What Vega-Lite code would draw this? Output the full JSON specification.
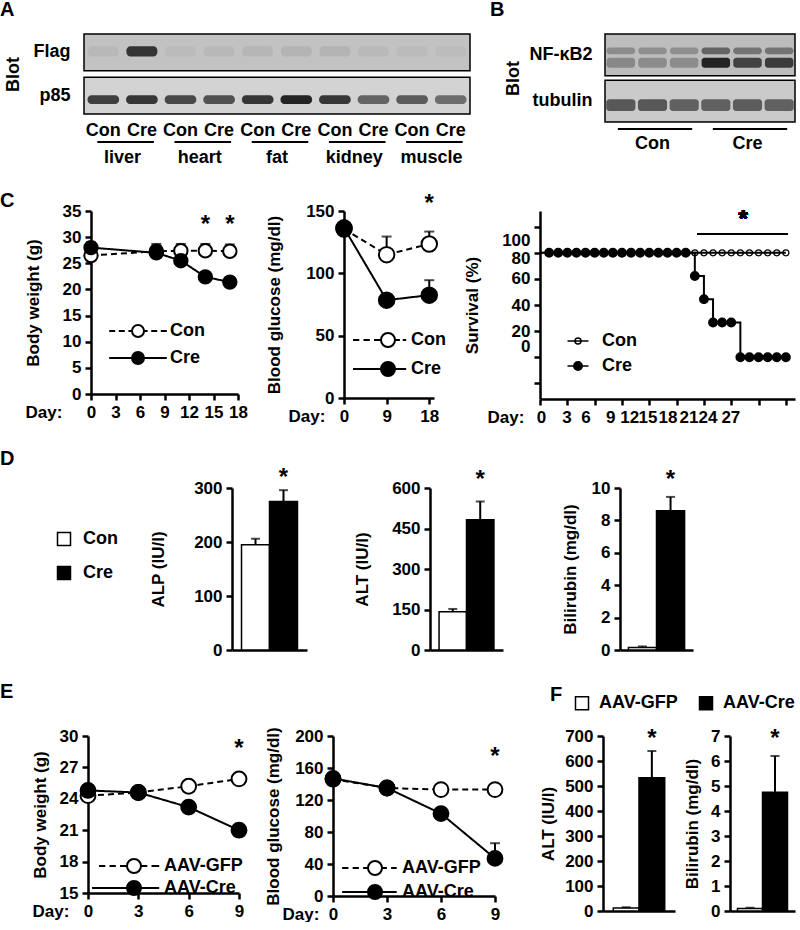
{
"$schema": "https://vega.github.io/schema/vega-lite/v6.json",
"padding": 0,
"background": "#ffffff",
"spacing": 24,
"resolve": {"scale": {"fill": "independent", "opacity": "independent", "strokeDash": "independent", "size": "independent", "strokeWidth": "independent", "shape": "independent"}},
"config": {
  "font": "Liberation Sans",
  "view": {"stroke": null},
  "axis": {"labelFont": "Liberation Sans", "labelFontWeight": "bold", "labelFontSize": 17, "labelColor": "#000000", "titleFont": "Liberation Sans", "titleFontWeight": "bold", "titleFontSize": 17, "titleColor": "#000000", "domainColor": "#000000", "domainWidth": 2.5, "tickColor": "#000000", "tickWidth": 2.5, "tickSize": 6, "grid": false, "labelPadding": 4, "labelFlush": false, "labelOverlap": false, "labelBound": false},
  "legend": {"labelFont": "Liberation Sans", "labelFontWeight": "bold", "labelFontSize": 18, "labelColor": "#000000", "padding": 0, "offset": 0},
  "title": {"font": "Liberation Sans", "fontWeight": "bold", "fontSize": 20, "color": "#000000", "anchor": "start", "frame": "group"}
},
"vconcat": [
{
  "hconcat": [
  {"width": 74, "height": 1, "data": {"values": []}, "mark": "point", "encoding": {}},
  {
    "width": 386, "height": 80,
    "title": {"text": "A", "dx": -84, "offset": 13},
    "data": {"values": [
      {"lane": 1, "blot": "Flag", "intensity": 0.06}, {"lane": 2, "blot": "Flag", "intensity": 0.85},
      {"lane": 3, "blot": "Flag", "intensity": 0.04}, {"lane": 4, "blot": "Flag", "intensity": 0.06},
      {"lane": 5, "blot": "Flag", "intensity": 0.07}, {"lane": 6, "blot": "Flag", "intensity": 0.08},
      {"lane": 7, "blot": "Flag", "intensity": 0.08}, {"lane": 8, "blot": "Flag", "intensity": 0.05},
      {"lane": 9, "blot": "Flag", "intensity": 0.04}, {"lane": 10, "blot": "Flag", "intensity": 0.03},
      {"lane": 1, "blot": "p85", "intensity": 0.8}, {"lane": 2, "blot": "p85", "intensity": 0.85},
      {"lane": 3, "blot": "p85", "intensity": 0.75}, {"lane": 4, "blot": "p85", "intensity": 0.7},
      {"lane": 5, "blot": "p85", "intensity": 0.85}, {"lane": 6, "blot": "p85", "intensity": 0.95},
      {"lane": 7, "blot": "p85", "intensity": 0.85}, {"lane": 8, "blot": "p85", "intensity": 0.6},
      {"lane": 9, "blot": "p85", "intensity": 0.65}, {"lane": 10, "blot": "p85", "intensity": 0.55}
    ]},
    "layer": [
      {
        "data": {"values": [{"blot": "Flag"}, {"blot": "p85"}]},
        "mark": {"type": "rect", "stroke": "#000000", "strokeWidth": 1.5},
        "encoding": {
          "y": {"field": "blot", "type": "nominal", "scale": {"domain": ["Flag", "p85"], "paddingInner": 0.15, "paddingOuter": 0}, "axis": {"title": "Blot", "titleFontSize": 18, "titlePadding": 10, "labelFontSize": 18, "labelPadding": 14, "ticks": false, "domain": false}},
          "fill": {"field": "blot", "type": "nominal", "scale": {"domain": ["Flag", "p85"], "range": ["#c2c2c2", "#d3d3d3"]}, "legend": null}
        }
      },
      {
        "transform": [{"filter": "datum.blot === 'Flag'"}],
        "mark": {"type": "rect", "fill": "#1a1a1a", "width": {"band": 0.8}, "height": {"band": 0.28}, "cornerRadius": 4, "yOffset": -1},
        "encoding": {
          "x": {"field": "lane", "type": "ordinal", "scale": {"paddingInner": 0, "paddingOuter": 0}, "axis": {"title": null, "labelExpr": "datum.value % 2 === 1 ? 'Con' : 'Cre'", "labelFontSize": 18, "labelPadding": 7, "ticks": false, "domain": false, "labelAngle": 0}},
          "y": {"field": "blot", "type": "nominal"},
          "opacity": {"field": "intensity", "type": "quantitative", "scale": {"domain": [0, 1], "range": [0, 1]}, "legend": null}
        }
      },
      {
        "transform": [{"filter": "datum.blot === 'p85'"}],
        "mark": {"type": "rect", "fill": "#1a1a1a", "width": {"band": 0.82}, "height": {"band": 0.24}, "cornerRadius": 4, "yOffset": 4},
        "encoding": {
          "x": {"field": "lane", "type": "ordinal"},
          "y": {"field": "blot", "type": "nominal"},
          "opacity": {"field": "intensity", "type": "quantitative", "scale": {"domain": [0, 1], "range": [0, 1]}, "legend": null}
        }
      },
      {
        "data": {"values": [
          {"tissue": "liver", "first": 1, "last": 2}, {"tissue": "heart", "first": 3, "last": 4},
          {"tissue": "fat", "first": 5, "last": 6}, {"tissue": "kidney", "first": 7, "last": 8},
          {"tissue": "muscle", "first": 9, "last": 10}
        ]},
        "mark": {"type": "rule", "strokeWidth": 2, "color": "#000000", "yOffset": 28, "xOffset": -6, "x2Offset": 12},
        "encoding": {
          "x": {"field": "first", "type": "ordinal"},
          "x2": {"field": "last"},
          "y": {"value": "height"}
        }
      },
      {
        "data": {"values": [
          {"tissue": "liver", "first": 1}, {"tissue": "heart", "first": 3},
          {"tissue": "fat", "first": 5}, {"tissue": "kidney", "first": 7},
          {"tissue": "muscle", "first": 9}
        ]},
        "mark": {"type": "text", "fontSize": 18, "fontWeight": "bold", "baseline": "middle", "align": "center", "dy": 44, "color": "#000000"},
        "encoding": {
          "x": {"field": "first", "type": "ordinal", "bandPosition": 1},
          "y": {"value": "height"},
          "text": {"field": "tissue"}
        }
      }
    ]
  },
  {"width": 115, "height": 1, "data": {"values": []}, "mark": "point", "encoding": {}},
  {
    "width": 190, "height": 88,
    "title": {"text": "B", "dx": -115, "offset": 13},
    "data": {"values": [
      {"lane": 1, "blot": "NF-κB2", "band": "upper", "intensity": 0.3}, {"lane": 2, "blot": "NF-κB2", "band": "upper", "intensity": 0.28},
      {"lane": 3, "blot": "NF-κB2", "band": "upper", "intensity": 0.28}, {"lane": 4, "blot": "NF-κB2", "band": "upper", "intensity": 0.55},
      {"lane": 5, "blot": "NF-κB2", "band": "upper", "intensity": 0.45}, {"lane": 6, "blot": "NF-κB2", "band": "upper", "intensity": 0.45},
      {"lane": 1, "blot": "NF-κB2", "band": "lower", "intensity": 0.32}, {"lane": 2, "blot": "NF-κB2", "band": "lower", "intensity": 0.3},
      {"lane": 3, "blot": "NF-κB2", "band": "lower", "intensity": 0.3}, {"lane": 4, "blot": "NF-κB2", "band": "lower", "intensity": 0.95},
      {"lane": 5, "blot": "NF-κB2", "band": "lower", "intensity": 0.75}, {"lane": 6, "blot": "NF-κB2", "band": "lower", "intensity": 0.8},
      {"lane": 1, "blot": "tubulin", "band": "main", "intensity": 0.65}, {"lane": 2, "blot": "tubulin", "band": "main", "intensity": 0.65},
      {"lane": 3, "blot": "tubulin", "band": "main", "intensity": 0.6}, {"lane": 4, "blot": "tubulin", "band": "main", "intensity": 0.6},
      {"lane": 5, "blot": "tubulin", "band": "main", "intensity": 0.62}, {"lane": 6, "blot": "tubulin", "band": "main", "intensity": 0.6}
    ]},
    "layer": [
      {
        "data": {"values": [{"blot": "NF-κB2"}, {"blot": "tubulin"}]},
        "mark": {"type": "rect", "stroke": "#000000", "strokeWidth": 1.5},
        "encoding": {
          "y": {"field": "blot", "type": "nominal", "scale": {"domain": ["NF-κB2", "tubulin"], "paddingInner": 0.1, "paddingOuter": 0}, "axis": {"title": "Blot", "titleFontSize": 18, "titlePadding": 6, "labelFontSize": 18, "labelPadding": 13, "ticks": false, "domain": false}},
          "fill": {"field": "blot", "type": "nominal", "scale": {"domain": ["NF-κB2", "tubulin"], "range": ["#bdbdbd", "#cacaca"]}, "legend": null}
        }
      },
      {
        "transform": [{"filter": "datum.band === 'upper'"}],
        "mark": {"type": "rect", "fill": "#1a1a1a", "width": {"band": 0.9}, "height": {"band": 0.16}, "cornerRadius": 3, "yOffset": -4},
        "encoding": {
          "x": {"field": "lane", "type": "ordinal", "scale": {"paddingInner": 0, "paddingOuter": 0}, "axis": null},
          "y": {"field": "blot", "type": "nominal"},
          "opacity": {"field": "intensity", "type": "quantitative", "scale": {"domain": [0, 1], "range": [0, 1]}, "legend": null}
        }
      },
      {
        "transform": [{"filter": "datum.band === 'lower'"}],
        "mark": {"type": "rect", "fill": "#1a1a1a", "width": {"band": 0.9}, "height": {"band": 0.24}, "cornerRadius": 3, "yOffset": 8},
        "encoding": {
          "x": {"field": "lane", "type": "ordinal", "axis": null},
          "y": {"field": "blot", "type": "nominal"},
          "opacity": {"field": "intensity", "type": "quantitative", "scale": {"domain": [0, 1], "range": [0, 1]}, "legend": null}
        }
      },
      {
        "transform": [{"filter": "datum.band === 'main'"}],
        "mark": {"type": "rect", "fill": "#1a1a1a", "width": {"band": 0.92}, "height": {"band": 0.28}, "cornerRadius": 3, "yOffset": 4},
        "encoding": {
          "x": {"field": "lane", "type": "ordinal", "axis": null},
          "y": {"field": "blot", "type": "nominal"},
          "opacity": {"field": "intensity", "type": "quantitative", "scale": {"domain": [0, 1], "range": [0, 1]}, "legend": null}
        }
      },
      {
        "data": {"values": [{"grp": "Con", "first": 1, "last": 3}, {"grp": "Cre", "first": 4, "last": 6}]},
        "mark": {"type": "rule", "strokeWidth": 2, "color": "#000000", "yOffset": 7, "xOffset": -3, "x2Offset": 8},
        "encoding": {
          "x": {"field": "first", "type": "ordinal", "axis": null},
          "x2": {"field": "last"},
          "y": {"value": "height"}
        }
      },
      {
        "data": {"values": [{"grp": "Con", "mid": 2}, {"grp": "Cre", "mid": 5}]},
        "mark": {"type": "text", "fontSize": 18, "fontWeight": "bold", "baseline": "middle", "align": "center", "dy": 22, "color": "#000000"},
        "encoding": {
          "x": {"field": "mid", "type": "ordinal", "axis": null},
          "y": {"value": "height"},
          "text": {"field": "grp"}
        }
      }
    ]
  }
  ],
  "spacing": 10,
  "bounds": "flush",
  "resolve": {"scale": {"fill": "independent", "opacity": "independent"}}
},
{
  "hconcat": [
  {"width": 81, "height": 1, "data": {"values": []}, "mark": "point", "encoding": {}},
  {
    "width": 147, "height": 183,
    "title": {"text": "C", "dx": -91, "offset": -9},
    "data": {"values": [
      {"day": 0, "group": "Con", "mean": 26.5, "upper": 27.3},
      {"day": 8, "group": "Con", "mean": 27.3, "upper": 28.7},
      {"day": 11, "group": "Con", "mean": 27.4, "upper": 28.7},
      {"day": 14, "group": "Con", "mean": 27.4, "upper": 28.7},
      {"day": 17, "group": "Con", "mean": 27.3, "upper": 28.6},
      {"day": 0, "group": "Cre", "mean": 28.0, "upper": 29.0},
      {"day": 8, "group": "Cre", "mean": 27.0, "upper": 28.3},
      {"day": 11, "group": "Cre", "mean": 25.5, "upper": 26.4},
      {"day": 14, "group": "Cre", "mean": 22.4, "upper": 23.3},
      {"day": 17, "group": "Cre", "mean": 21.4, "upper": 22.3}
    ]},
    "encoding": {
      "x": {"field": "day", "type": "quantitative", "scale": {"domain": [0, 18]}, "axis": {"values": [0, 3, 6, 9, 12, 15, 18], "title": "Day:", "titleX": -66, "titleY": 10, "titleAlign": "left", "titleBaseline": "top", "titleAngle": 0}},
      "y": {"field": "mean", "type": "quantitative", "scale": {"domain": [0, 35]}, "axis": {"values": [0, 5, 10, 15, 20, 25, 30, 35], "title": "Body weight (g)", "titlePadding": 20}}
    },
    "layer": [
      {"mark": {"type": "rule", "strokeWidth": 2, "color": "#000000"}, "encoding": {"y2": {"field": "upper"}}},
      {"mark": {"type": "tick", "orient": "horizontal", "size": 10, "thickness": 2, "color": "#000000"},
       "encoding": {"y": {"field": "upper", "type": "quantitative", "axis": {"values": [0, 5, 10, 15, 20, 25, 30, 35], "title": "Body weight (g)", "titlePadding": 20}}}},
      {"mark": {"type": "line", "color": "#000000", "strokeWidth": 2},
       "encoding": {"strokeDash": {"field": "group", "type": "nominal", "scale": {"domain": ["Cre", "Con"], "range": [[1, 0], [6, 4]]}, "legend": null}}},
      {"mark": {"type": "point", "filled": true, "stroke": "#000000", "strokeWidth": 2, "size": 180, "opacity": 1},
       "encoding": {
         "fill": {"field": "group", "type": "nominal", "scale": {"domain": ["Con", "Cre"], "range": ["#ffffff", "#000000"]},
           "legend": {"title": null, "orient": "none", "legendX": 38, "legendY": 111, "symbolSize": 144, "symbolStrokeWidth": 2, "symbolStrokeColor": "#000000", "labelOffset": 23, "rowPadding": 7}}}},
      {"transform": [{"filter": "false"}],
       "mark": {"type": "point", "filled": true, "stroke": "#000000", "strokeWidth": 2, "opacity": 1},
       "encoding": {
         "shape": {"field": "group", "type": "nominal", "scale": {"domain": ["Con", "Cre"], "range": ["M-4.8,0L-3.8,0M-3.2,0L-2.2,0M-1.6,0L-1,0M1,0L1.6,0M2.2,0L3.2,0M3.8,0L4.8,0M1,0A1,1,0,1,1,-1,0A1,1,0,1,1,1,0Z", "M-4.8,0L-1,0M1,0L4.8,0M1,0A1,1,0,1,1,-1,0A1,1,0,1,1,1,0Z"]},
           "legend": {"title": null, "orient": "none", "legendX": 38, "legendY": 111, "symbolSize": 144, "symbolStrokeWidth": 2, "symbolStrokeColor": "#000000", "labelOffset": 23, "rowPadding": 7}},
         "fill": {"field": "group", "type": "nominal"}}},
      {"transform": [{"filter": "datum.group === 'Con' && datum.day >= 14"}],
       "mark": {"type": "text", "text": "*", "fontSize": 24, "fontWeight": "bold", "baseline": "middle", "color": "#000000"},
       "encoding": {"y": {"datum": 32.3, "type": "quantitative", "axis": {"values": [0, 5, 10, 15, 20, 25, 30, 35], "title": "Body weight (g)", "titlePadding": 20}}}}
    ]
  },
  {"width": 86, "height": 1, "data": {"values": []}, "mark": "point", "encoding": {}},
  {
    "width": 90, "height": 187,
    "data": {"values": [
      {"day": 0, "group": "Con", "mean": 135.5, "upper": 137},
      {"day": 9, "group": "Con", "mean": 115, "upper": 129.5},
      {"day": 18, "group": "Con", "mean": 123.5, "upper": 133.5},
      {"day": 0, "group": "Cre", "mean": 136.5, "upper": 138},
      {"day": 9, "group": "Cre", "mean": 78.5, "upper": 80},
      {"day": 18, "group": "Cre", "mean": 82.5, "upper": 94.5}
    ]},
    "encoding": {
      "x": {"field": "day", "type": "quantitative", "scale": {"domain": [0, 19]}, "axis": {"values": [0, 9, 18], "title": "Day:", "titleX": -56, "titleY": 10, "titleAlign": "left", "titleBaseline": "top", "titleAngle": 0}},
      "y": {"field": "mean", "type": "quantitative", "scale": {"domain": [0, 150]}, "axis": {"values": [0, 50, 100, 150], "title": "Blood glucose (mg/dl)", "titlePadding": 22}}
    },
    "layer": [
      {"mark": {"type": "rule", "strokeWidth": 2, "color": "#000000"}, "encoding": {"y2": {"field": "upper"}}},
      {"mark": {"type": "tick", "orient": "horizontal", "size": 10, "thickness": 2, "color": "#000000"},
       "encoding": {"y": {"field": "upper", "type": "quantitative", "axis": {"values": [0, 50, 100, 150], "title": "Blood glucose (mg/dl)", "titlePadding": 22}}}},
      {"mark": {"type": "line", "color": "#000000", "strokeWidth": 2},
       "encoding": {"strokeDash": {"field": "group", "type": "nominal", "scale": {"domain": ["Cre", "Con"], "range": [[1, 0], [6, 4]]}, "legend": null}}},
      {"mark": {"type": "point", "filled": true, "stroke": "#000000", "strokeWidth": 2, "size": 240, "opacity": 1},
       "encoding": {
         "fill": {"field": "group", "type": "nominal", "scale": {"domain": ["Con", "Cre"], "range": ["#ffffff", "#000000"]},
           "legend": {"title": null, "orient": "none", "legendX": 35, "legendY": 120, "symbolSize": 196, "symbolStrokeWidth": 2, "symbolStrokeColor": "#000000", "labelOffset": 14, "rowPadding": 7}}}},
      {"transform": [{"filter": "false"}],
       "mark": {"type": "point", "filled": true, "stroke": "#000000", "strokeWidth": 2, "opacity": 1},
       "encoding": {
         "shape": {"field": "group", "type": "nominal", "scale": {"domain": ["Con", "Cre"], "range": ["M-5,0L-4.1,0M-3.5,0L-2.6,0M-2,0L-1.1,0M1,0L1.7,0M2.1,0L2.6,0M1,0A1,1,0,1,1,-1,0A1,1,0,1,1,1,0Z", "M-5,0L-1,0M1,0L2.6,0M1,0A1,1,0,1,1,-1,0A1,1,0,1,1,1,0Z"]},
           "legend": {"title": null, "orient": "none", "legendX": 35, "legendY": 120, "symbolSize": 196, "symbolStrokeWidth": 2, "symbolStrokeColor": "#000000", "labelOffset": 14, "rowPadding": 7}},
         "fill": {"field": "group", "type": "nominal"}}},
      {"transform": [{"filter": "datum.group === 'Con' && datum.day === 18"}],
       "mark": {"type": "text", "text": "*", "fontSize": 24, "fontWeight": "bold", "baseline": "middle", "color": "#000000"},
       "encoding": {"y": {"datum": 156, "type": "quantitative", "axis": {"values": [0, 50, 100, 150], "title": "Blood glucose (mg/dl)", "titlePadding": 22}}}}
    ]
  },
  {"width": 86, "height": 1, "data": {"values": []}, "mark": "point", "encoding": {}},
  {
    "width": 255, "height": 188,
    "data": {"values": [
      {"day": 0, "group": "Con", "surv": 100}, {"day": 1, "group": "Con", "surv": 100}, {"day": 2, "group": "Con", "surv": 100}, {"day": 3, "group": "Con", "surv": 100},
      {"day": 4, "group": "Con", "surv": 100}, {"day": 5, "group": "Con", "surv": 100}, {"day": 6, "group": "Con", "surv": 100}, {"day": 7, "group": "Con", "surv": 100},
      {"day": 8, "group": "Con", "surv": 100}, {"day": 9, "group": "Con", "surv": 100}, {"day": 10, "group": "Con", "surv": 100}, {"day": 11, "group": "Con", "surv": 100},
      {"day": 12, "group": "Con", "surv": 100}, {"day": 13, "group": "Con", "surv": 100}, {"day": 14, "group": "Con", "surv": 100}, {"day": 15, "group": "Con", "surv": 100},
      {"day": 16, "group": "Con", "surv": 100}, {"day": 17, "group": "Con", "surv": 100}, {"day": 18, "group": "Con", "surv": 100}, {"day": 19, "group": "Con", "surv": 100},
      {"day": 20, "group": "Con", "surv": 100}, {"day": 21, "group": "Con", "surv": 100}, {"day": 22, "group": "Con", "surv": 100}, {"day": 23, "group": "Con", "surv": 100},
      {"day": 24, "group": "Con", "surv": 100}, {"day": 25, "group": "Con", "surv": 100}, {"day": 26, "group": "Con", "surv": 100}, {"day": 27, "group": "Con", "surv": 100},
      {"day": 0, "group": "Cre", "surv": 100}, {"day": 1, "group": "Cre", "surv": 100}, {"day": 2, "group": "Cre", "surv": 100}, {"day": 3, "group": "Cre", "surv": 100},
      {"day": 4, "group": "Cre", "surv": 100}, {"day": 5, "group": "Cre", "surv": 100}, {"day": 6, "group": "Cre", "surv": 100}, {"day": 7, "group": "Cre", "surv": 100},
      {"day": 8, "group": "Cre", "surv": 100}, {"day": 9, "group": "Cre", "surv": 100}, {"day": 10, "group": "Cre", "surv": 100}, {"day": 11, "group": "Cre", "surv": 100},
      {"day": 12, "group": "Cre", "surv": 100}, {"day": 13, "group": "Cre", "surv": 100}, {"day": 14, "group": "Cre", "surv": 100}, {"day": 15, "group": "Cre", "surv": 100},
      {"day": 16, "group": "Cre", "surv": 100}, {"day": 17, "group": "Cre", "surv": 77.8}, {"day": 18, "group": "Cre", "surv": 55.6}, {"day": 19, "group": "Cre", "surv": 33.3},
      {"day": 20, "group": "Cre", "surv": 33.3}, {"day": 21, "group": "Cre", "surv": 33.3}, {"day": 22, "group": "Cre", "surv": 0}, {"day": 23, "group": "Cre", "surv": 0},
      {"day": 24, "group": "Cre", "surv": 0}, {"day": 25, "group": "Cre", "surv": 0}, {"day": 26, "group": "Cre", "surv": 0}, {"day": 27, "group": "Cre", "surv": 0}
    ]},
    "layer": [
      {"mark": {"type": "line", "interpolate": "step-after", "color": "#000000", "strokeWidth": 2},
       "encoding": {
         "x": {"field": "day", "type": "quantitative", "scale": {"domain": [0, 27]}, "axis": {"orient": "bottom", "values": [0, 3, 6, 9, 12, 15, 18, 21, 24, 27], "labels": false, "title": null}},
         "y": {"field": "surv", "type": "quantitative", "scale": {"domain": [-25, 125]}, "axis": {"orient": "left", "values": [-25, 0, 25, 50, 75, 100, 125], "labels": false, "title": null}},
         "detail": {"field": "group"}}},
      {"transform": [{"filter": "datum.day > 0"}],
       "mark": {"type": "point", "filled": true, "stroke": "#000000", "opacity": 1},
       "encoding": {
         "x": {"field": "day", "type": "quantitative", "axis": {"orient": "bottom", "values": [0.1, 2.9, 5, 7.7, 9.8, 11.8, 14, 16.3, 18.4, 20.9], "labelExpr": "['0','3','6','9','12','15','18','21','24','27'][indexof([0.1,2.9,5,7.7,9.8,11.8,14,16.3,18.4,20.9], datum.value)]", "ticks": false, "domain": false, "labelPadding": 10, "title": "Day:", "titleX": -53, "titleY": 10, "titleAlign": "left", "titleBaseline": "top", "titleAngle": 0}},
         "y": {"field": "surv", "type": "quantitative", "axis": {"orient": "left", "values": [112, 94.6, 75, 50, 25, 10.2], "labelExpr": "['100','80','60','40','20','0'][indexof([112,94.6,75,50,25,10.2], datum.value)]", "ticks": false, "domain": false, "labelPadding": 10, "title": "Survival (%)", "titlePadding": 20}},
         "size": {"field": "group", "type": "nominal", "scale": {"domain": ["Cre", "Con"], "range": [70, 36]}, "legend": null},
         "strokeWidth": {"field": "group", "type": "nominal", "scale": {"domain": ["Cre", "Con"], "range": [1.5, 1.3]}, "legend": null},
         "fill": {"field": "group", "type": "nominal", "scale": {"domain": ["Con", "Cre"], "range": ["transparent", "#000000"]},
           "legend": {"title": null, "orient": "none", "legendX": 29, "legendY": 121, "symbolSize": 36, "symbolStrokeWidth": 1.5, "symbolStrokeColor": "#000000", "labelOffset": 15, "rowPadding": 7}}}},
      {"transform": [{"filter": "false"}],
       "mark": {"type": "point", "filled": true, "stroke": "#000000", "opacity": 1},
       "encoding": {
         "x": {"field": "day", "type": "quantitative", "axis": null},
         "y": {"field": "surv", "type": "quantitative", "axis": null},
         "shape": {"field": "group", "type": "nominal", "scale": {"domain": ["Con", "Cre"], "range": ["M-3.5,0L3.5,0M1,0A1,1,0,1,1,-1,0A1,1,0,1,1,1,0Z", "M-3.5,0L3.5,0M1.4,0A1.4,1.4,0,1,1,-1.4,0A1.4,1.4,0,1,1,1.4,0Z"]},
           "legend": {"title": null, "orient": "none", "legendX": 29, "legendY": 121, "symbolSize": 36, "symbolStrokeWidth": 1.5, "symbolStrokeColor": "#000000", "labelOffset": 15, "rowPadding": 7}},
         "fill": {"field": "group", "type": "nominal"}}},
      {"mark": {"type": "rule", "strokeWidth": 2, "color": "#000000"},
       "encoding": {"x": {"datum": 17.3, "type": "quantitative", "axis": null}, "x2": {"datum": 27.2}, "y": {"datum": 118, "type": "quantitative", "axis": null}}},
      {"mark": {"type": "text", "text": "*", "fontSize": 24, "fontWeight": "bold", "baseline": "middle", "color": "#000000"},
       "encoding": {"x": {"datum": 22.3, "type": "quantitative", "axis": null}, "y": {"datum": 131, "type": "quantitative", "axis": null}}}
    ],
    "resolve": {"axis": {"x": "independent", "y": "independent"}}
  }
  ],
  "spacing": 10,
  "bounds": "flush",
  "resolve": {"scale": {"fill": "independent", "strokeDash": "independent", "size": "independent", "strokeWidth": "independent", "shape": "independent"}}
},
{
  "hconcat": [
  {"width": 222, "height": 1, "data": {"values": []}, "mark": "point", "encoding": {}},
  {
    "width": 75, "height": 162,
    "title": {"text": "D", "dx": -232, "offset": -3},
    "data": {"values": [{"group": "Con", "value": 195, "upper": 206}, {"group": "Cre", "value": 275, "upper": 296}]},
    "encoding": {
      "x": {"field": "group", "type": "nominal", "scale": {"domain": ["Con", "Cre"], "paddingInner": 0, "paddingOuter": 0.34}, "axis": {"labels": false, "ticks": false, "title": null}},
      "y": {"field": "value", "type": "quantitative", "scale": {"domain": [0, 300]}, "axis": {"values": [0, 100, 200, 300], "title": "ALP (IU/l)", "titlePadding": 26}}
    },
    "layer": [
      {"mark": {"type": "bar", "stroke": "#000000", "strokeWidth": 1.5, "width": {"band": 1}},
       "encoding": {"fill": {"field": "group", "type": "nominal", "scale": {"domain": ["Con", "Cre"], "range": ["#ffffff", "#000000"]},
           "legend": {"title": null, "orient": "none", "legendX": -177, "legendY": 42, "symbolType": "square", "symbolSize": 169, "symbolStrokeColor": "#000000", "symbolStrokeWidth": 1.5, "rowPadding": 14, "labelOffset": 10}}}},
      {"mark": {"type": "rule", "strokeWidth": 2, "color": "#000000"}, "encoding": {"y2": {"field": "upper"}}},
      {"mark": {"type": "tick", "orient": "horizontal", "size": 9, "thickness": 2, "color": "#000000"},
       "encoding": {"y": {"field": "upper", "type": "quantitative", "axis": {"values": [0, 100, 200, 300], "title": "ALP (IU/l)", "titlePadding": 26}}}},
      {"transform": [{"filter": "datum.group === 'Cre'"}],
       "mark": {"type": "text", "text": "*", "fontSize": 24, "fontWeight": "bold", "baseline": "middle", "color": "#000000"},
       "encoding": {"y": {"datum": 318, "type": "quantitative", "axis": {"values": [0, 100, 200, 300], "title": "ALP (IU/l)", "titlePadding": 26}}}}
    ]
  },
  {"width": 103, "height": 1, "data": {"values": []}, "mark": "point", "encoding": {}},
  {
    "width": 73, "height": 162,
    "data": {"values": [{"group": "Con", "value": 142, "upper": 152}, {"group": "Cre", "value": 482, "upper": 550}]},
    "encoding": {
      "x": {"field": "group", "type": "nominal", "scale": {"domain": ["Con", "Cre"], "paddingInner": 0, "paddingOuter": 0.33}, "axis": {"labels": false, "ticks": false, "title": null}},
      "y": {"field": "value", "type": "quantitative", "scale": {"domain": [0, 600]}, "axis": {"values": [0, 150, 300, 450, 600], "title": "ALT (IU/l)", "titlePadding": 20}}
    },
    "layer": [
      {"mark": {"type": "bar", "stroke": "#000000", "strokeWidth": 1.5, "width": {"band": 1}},
       "encoding": {"fill": {"field": "group", "type": "nominal", "scale": {"domain": ["Con", "Cre"], "range": ["#ffffff", "#000000"]}, "legend": null}}},
      {"mark": {"type": "rule", "strokeWidth": 2, "color": "#000000"}, "encoding": {"y2": {"field": "upper"}}},
      {"mark": {"type": "tick", "orient": "horizontal", "size": 9, "thickness": 2, "color": "#000000"},
       "encoding": {"y": {"field": "upper", "type": "quantitative", "axis": {"values": [0, 150, 300, 450, 600], "title": "ALT (IU/l)", "titlePadding": 20}}}},
      {"transform": [{"filter": "datum.group === 'Cre'"}],
       "mark": {"type": "text", "text": "*", "fontSize": 24, "fontWeight": "bold", "baseline": "middle", "color": "#000000"},
       "encoding": {"y": {"datum": 630, "type": "quantitative", "axis": {"values": [0, 150, 300, 450, 600], "title": "ALT (IU/l)", "titlePadding": 20}}}}
    ]
  },
  {"width": 97, "height": 1, "data": {"values": []}, "mark": "point", "encoding": {}},
  {
    "width": 73, "height": 162,
    "data": {"values": [{"group": "Con", "value": 0.15, "upper": 0.22}, {"group": "Cre", "value": 8.6, "upper": 9.45}]},
    "encoding": {
      "x": {"field": "group", "type": "nominal", "scale": {"domain": ["Con", "Cre"], "paddingInner": 0, "paddingOuter": 0.3}, "axis": {"labels": false, "ticks": false, "title": null}},
      "y": {"field": "value", "type": "quantitative", "scale": {"domain": [0, 10]}, "axis": {"values": [0, 2, 4, 6, 8, 10], "title": "Bilirubin (mg/dl)", "titlePadding": 12}}
    },
    "layer": [
      {"mark": {"type": "bar", "stroke": "#000000", "strokeWidth": 1.5, "width": {"band": 1}},
       "encoding": {"fill": {"field": "group", "type": "nominal", "scale": {"domain": ["Con", "Cre"], "range": ["#ffffff", "#000000"]}, "legend": null}}},
      {"mark": {"type": "rule", "strokeWidth": 2, "color": "#000000"}, "encoding": {"y2": {"field": "upper"}}},
      {"mark": {"type": "tick", "orient": "horizontal", "size": 9, "thickness": 2, "color": "#000000"},
       "encoding": {"y": {"field": "upper", "type": "quantitative", "axis": {"values": [0, 2, 4, 6, 8, 10], "title": "Bilirubin (mg/dl)", "titlePadding": 12}}}},
      {"transform": [{"filter": "datum.group === 'Cre'"}],
       "mark": {"type": "text", "text": "*", "fontSize": 24, "fontWeight": "bold", "baseline": "middle", "color": "#000000"},
       "encoding": {"y": {"datum": 10.5, "type": "quantitative", "axis": {"values": [0, 2, 4, 6, 8, 10], "title": "Bilirubin (mg/dl)", "titlePadding": 12}}}}
    ]
  }
  ],
  "spacing": 10,
  "bounds": "flush",
  "resolve": {"scale": {"fill": "independent"}}
},
{
  "hconcat": [
    {"width": 78, "height": 1, "data": {"values": []}, "mark": "point", "encoding": {}},
    {
      "width": 151, "height": 157,
      "title": {"text": "E", "dx": -88, "offset": 25},
      "data": {"values": [
        {"day": 0, "group": "AAV-GFP", "mean": 24.3, "upper": 24.5},
        {"day": 3, "group": "AAV-GFP", "mean": 24.6, "upper": 24.8},
        {"day": 6, "group": "AAV-GFP", "mean": 25.2, "upper": 25.4},
        {"day": 9, "group": "AAV-GFP", "mean": 25.9, "upper": 26.1},
        {"day": 0, "group": "AAV-Cre", "mean": 24.8, "upper": 25.1},
        {"day": 3, "group": "AAV-Cre", "mean": 24.6, "upper": 24.9},
        {"day": 6, "group": "AAV-Cre", "mean": 23.2, "upper": 23.5},
        {"day": 9, "group": "AAV-Cre", "mean": 21.0, "upper": 21.5}
      ]},
      "encoding": {
        "x": {"field": "day", "type": "quantitative", "scale": {"domain": [0, 9]}, "axis": {"values": [0, 3, 6, 9], "title": "Day:", "titleX": -56, "titleY": 10, "titleAlign": "left", "titleBaseline": "top", "titleAngle": 0}},
        "y": {"field": "mean", "type": "quantitative", "scale": {"domain": [15, 30]}, "axis": {"values": [15, 18, 21, 24, 27, 30], "title": "Body weight (g)", "titlePadding": 10}}
      },
      "layer": [
        {"mark": {"type": "rule", "strokeWidth": 2, "color": "#000000"}, "encoding": {"y2": {"field": "upper"}}},
        {"mark": {"type": "tick", "orient": "horizontal", "size": 10, "thickness": 2, "color": "#000000"},
         "encoding": {"y": {"field": "upper", "type": "quantitative", "axis": {"values": [15, 18, 21, 24, 27, 30], "title": "Body weight (g)", "titlePadding": 10}}}},
        {"mark": {"type": "line", "color": "#000000", "strokeWidth": 2},
         "encoding": {"strokeDash": {"field": "group", "type": "nominal", "scale": {"domain": ["AAV-Cre", "AAV-GFP"], "range": [[1, 0], [6, 4]]}, "legend": null}}},
        {"mark": {"type": "point", "filled": true, "stroke": "#000000", "strokeWidth": 2, "size": 220, "opacity": 1},
         "encoding": {
           "fill": {"field": "group", "type": "nominal", "scale": {"domain": ["AAV-GFP", "AAV-Cre"], "range": ["#ffffff", "#000000"]},
             "legend": {"title": null, "orient": "none", "legendX": 37, "legendY": 121, "symbolSize": 196, "symbolStrokeWidth": 2, "symbolStrokeColor": "#000000", "labelOffset": 21, "rowPadding": 0}}}},
        {"transform": [{"filter": "false"}],
         "mark": {"type": "point", "filled": true, "stroke": "#000000", "strokeWidth": 2, "opacity": 1},
         "encoding": {
           "shape": {"field": "group", "type": "nominal", "scale": {"domain": ["AAV-GFP", "AAV-Cre"], "range": ["M-5,0L-4.1,0M-3.5,0L-2.6,0M-2,0L-1.1,0M1.1,0L1.9,0M2.5,0L3.6,0M1,0A1,1,0,1,1,-1,0A1,1,0,1,1,1,0Z", "M-6,0L-1,0M1,0L3.6,0M1,0A1,1,0,1,1,-1,0A1,1,0,1,1,1,0Z"]},
             "legend": {"title": null, "orient": "none", "legendX": 37, "legendY": 121, "symbolSize": 196, "symbolStrokeWidth": 2, "symbolStrokeColor": "#000000", "labelOffset": 21, "rowPadding": 0}},
           "fill": {"field": "group", "type": "nominal"}}},
        {"transform": [{"filter": "datum.group === 'AAV-GFP' && datum.day === 9"}],
         "mark": {"type": "text", "text": "*", "fontSize": 24, "fontWeight": "bold", "baseline": "middle", "color": "#000000"},
         "encoding": {"y": {"datum": 28.8, "type": "quantitative", "axis": {"values": [15, 18, 21, 24, 27, 30], "title": "Body weight (g)", "titlePadding": 10}}}}
      ]
    },
    {"width": 74, "height": 1, "data": {"values": []}, "mark": "point", "encoding": {}},
    {
      "width": 162, "height": 160,
      "data": {"values": [
        {"day": 0, "group": "AAV-GFP", "mean": 146, "upper": 148},
        {"day": 3, "group": "AAV-GFP", "mean": 135, "upper": 137},
        {"day": 6, "group": "AAV-GFP", "mean": 133, "upper": 134},
        {"day": 9, "group": "AAV-GFP", "mean": 133, "upper": 134},
        {"day": 0, "group": "AAV-Cre", "mean": 147, "upper": 149},
        {"day": 3, "group": "AAV-Cre", "mean": 135, "upper": 141},
        {"day": 6, "group": "AAV-Cre", "mean": 103, "upper": 110},
        {"day": 9, "group": "AAV-Cre", "mean": 47, "upper": 66}
      ]},
      "encoding": {
        "x": {"field": "day", "type": "quantitative", "scale": {"domain": [0, 9]}, "axis": {"values": [0, 3, 6, 9], "title": "Day:", "titleX": -51, "titleY": 10, "titleAlign": "left", "titleBaseline": "top", "titleAngle": 0}},
        "y": {"field": "mean", "type": "quantitative", "scale": {"domain": [0, 200]}, "axis": {"values": [0, 40, 80, 120, 160, 200], "title": "Blood glucose (mg/dl)", "titlePadding": 12}}
      },
      "layer": [
        {"mark": {"type": "rule", "strokeWidth": 2, "color": "#000000"}, "encoding": {"y2": {"field": "upper"}}},
        {"mark": {"type": "tick", "orient": "horizontal", "size": 10, "thickness": 2, "color": "#000000"},
         "encoding": {"y": {"field": "upper", "type": "quantitative", "axis": {"values": [0, 40, 80, 120, 160, 200], "title": "Blood glucose (mg/dl)", "titlePadding": 12}}}},
        {"mark": {"type": "line", "color": "#000000", "strokeWidth": 2},
         "encoding": {"strokeDash": {"field": "group", "type": "nominal", "scale": {"domain": ["AAV-Cre", "AAV-GFP"], "range": [[1, 0], [6, 4]]}, "legend": null}}},
        {"mark": {"type": "point", "filled": true, "stroke": "#000000", "strokeWidth": 2, "size": 220, "opacity": 1},
         "encoding": {
           "fill": {"field": "group", "type": "nominal", "scale": {"domain": ["AAV-GFP", "AAV-Cre"], "range": ["#ffffff", "#000000"]},
             "legend": {"title": null, "orient": "none", "legendX": 33, "legendY": 123, "symbolSize": 196, "symbolStrokeWidth": 2, "symbolStrokeColor": "#000000", "labelOffset": 18, "rowPadding": 2}}}},
        {"transform": [{"filter": "false"}],
         "mark": {"type": "point", "filled": true, "stroke": "#000000", "strokeWidth": 2, "opacity": 1},
         "encoding": {
           "shape": {"field": "group", "type": "nominal", "scale": {"domain": ["AAV-GFP", "AAV-Cre"], "range": ["M-4.7,0L-3.8,0M-3.2,0L-2.3,0M-1.7,0L-1,0M1,0L1.7,0M2.3,0L3.1,0M1,0A1,1,0,1,1,-1,0A1,1,0,1,1,1,0Z", "M-4.7,0L-1,0M1,0L3.1,0M1,0A1,1,0,1,1,-1,0A1,1,0,1,1,1,0Z"]},
             "legend": {"title": null, "orient": "none", "legendX": 33, "legendY": 123, "symbolSize": 196, "symbolStrokeWidth": 2, "symbolStrokeColor": "#000000", "labelOffset": 18, "rowPadding": 2}},
           "fill": {"field": "group", "type": "nominal"}}},
        {"transform": [{"filter": "datum.group === 'AAV-GFP' && datum.day === 9"}],
         "mark": {"type": "text", "text": "*", "fontSize": 24, "fontWeight": "bold", "baseline": "middle", "color": "#000000"},
         "encoding": {"y": {"datum": 174, "type": "quantitative", "axis": {"values": [0, 40, 80, 120, 160, 200], "title": "Blood glucose (mg/dl)", "titlePadding": 12}}}}
      ]
    },
    {"width": 88, "height": 1, "data": {"values": []}, "mark": "point", "encoding": {}},
    {
      "width": 72, "height": 175,
      "title": {"text": "F", "dx": -53, "offset": -11},
      "data": {"values": [{"group": "AAV-GFP", "value": 12, "upper": 15}, {"group": "AAV-Cre", "value": 533, "upper": 640}]},
      "encoding": {
        "x": {"field": "group", "type": "nominal", "scale": {"domain": ["AAV-GFP", "AAV-Cre"], "paddingInner": 0, "paddingOuter": 0.4}, "axis": {"labels": false, "ticks": false, "title": null}},
        "y": {"field": "value", "type": "quantitative", "scale": {"domain": [0, 700]}, "axis": {"values": [0, 100, 200, 300, 400, 500, 600, 700], "title": "ALT (IU/l)", "titlePadding": 7}}
      },
      "layer": [
        {"mark": {"type": "bar", "stroke": "#000000", "strokeWidth": 1.5, "width": {"band": 1}},
         "encoding": {"fill": {"field": "group", "type": "nominal", "scale": {"domain": ["AAV-GFP", "AAV-Cre"], "range": ["#ffffff", "#000000"]},
             "legend": {"title": null, "orient": "none", "direction": "horizontal", "legendX": -30, "legendY": -42, "symbolType": "square", "symbolSize": 169, "symbolStrokeColor": "#000000", "symbolStrokeWidth": 1.5, "labelOffset": 8, "columnPadding": 18}}}},
        {"mark": {"type": "rule", "strokeWidth": 2, "color": "#000000"}, "encoding": {"y2": {"field": "upper"}}},
        {"mark": {"type": "tick", "orient": "horizontal", "size": 9, "thickness": 2, "color": "#000000"},
         "encoding": {"y": {"field": "upper", "type": "quantitative", "axis": {"values": [0, 100, 200, 300, 400, 500, 600, 700], "title": "ALT (IU/l)", "titlePadding": 7}}}},
        {"transform": [{"filter": "datum.group === 'AAV-Cre'"}],
         "mark": {"type": "text", "text": "*", "fontSize": 24, "fontWeight": "bold", "baseline": "middle", "color": "#000000"},
         "encoding": {"y": {"datum": 690, "type": "quantitative", "axis": {"values": [0, 100, 200, 300, 400, 500, 600, 700], "title": "ALT (IU/l)", "titlePadding": 7}}}}
      ]
    },
    {"width": 35, "height": 1, "data": {"values": []}, "mark": "point", "encoding": {}},
    {
      "width": 65, "height": 175,
      "data": {"values": [{"group": "AAV-GFP", "value": 0.1, "upper": 0.13}, {"group": "AAV-Cre", "value": 4.75, "upper": 6.2}]},
      "encoding": {
        "x": {"field": "group", "type": "nominal", "scale": {"domain": ["AAV-GFP", "AAV-Cre"], "paddingInner": 0, "paddingOuter": 0.3}, "axis": {"labels": false, "ticks": false, "title": null}},
        "y": {"field": "value", "type": "quantitative", "scale": {"domain": [0, 7]}, "axis": {"values": [0, 1, 2, 3, 4, 5, 6, 7], "title": "Bilirubin (mg/dl)", "titlePadding": 9}}
      },
      "layer": [
        {"mark": {"type": "bar", "stroke": "#000000", "strokeWidth": 1.5, "width": {"band": 1}},
         "encoding": {"fill": {"field": "group", "type": "nominal", "scale": {"domain": ["AAV-GFP", "AAV-Cre"], "range": ["#ffffff", "#000000"]}, "legend": null}}},
        {"mark": {"type": "rule", "strokeWidth": 2, "color": "#000000"}, "encoding": {"y2": {"field": "upper"}}},
        {"mark": {"type": "tick", "orient": "horizontal", "size": 9, "thickness": 2, "color": "#000000"},
         "encoding": {"y": {"field": "upper", "type": "quantitative", "axis": {"values": [0, 1, 2, 3, 4, 5, 6, 7], "title": "Bilirubin (mg/dl)", "titlePadding": 9}}}},
        {"transform": [{"filter": "datum.group === 'AAV-Cre'"}],
         "mark": {"type": "text", "text": "*", "fontSize": 24, "fontWeight": "bold", "baseline": "middle", "color": "#000000"},
         "encoding": {"y": {"datum": 6.9, "type": "quantitative", "axis": {"values": [0, 1, 2, 3, 4, 5, 6, 7], "title": "Bilirubin (mg/dl)", "titlePadding": 9}}}}
      ]
    }
  ],
  "spacing": 10,
  "bounds": "flush",
  "resolve": {"scale": {"fill": "independent", "strokeDash": "independent", "shape": "independent"}}
}
]
}
